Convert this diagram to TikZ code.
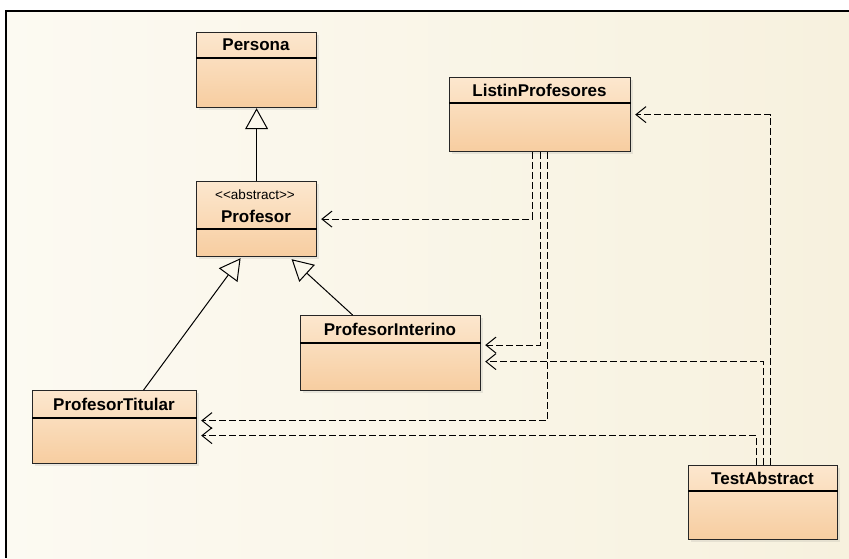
\documentclass[tikz,border=0pt]{standalone}
\usepackage{fontspec}
\setmainfont{Liberation Sans}
\usetikzlibrary{positioning, arrows.meta, shadows}

\definecolor{bgleft}{RGB}{252,250,242}
\definecolor{bgright}{RGB}{247,241,222}
\definecolor{clstop}{RGB}{252,231,206}
\definecolor{clsbot}{RGB}{247,205,160}

\begin{document}
\begin{tikzpicture}[x=1pt, y=-1pt,
    cls/.style={draw=black!85, line width=1.2pt, top color=clstop, bottom color=clsbot,
        anchor=north west, inner sep=0pt,
        drop shadow={opacity=0.15, shadow xshift=2pt, shadow yshift=-2pt}},
    cname/.style={font=\fontsize{17}{20}\selectfont\bfseries, inner sep=0pt},
    stereo/.style={font=\fontsize{13.5}{15}\selectfont, inner sep=0pt},
    gen/.style={line width=1pt, -{Triangle[open, length=21pt, width=23pt, line width=1pt]}},
    dep/.style={line width=1.1pt, dash pattern=on 7pt off 3pt,
        -{Straight Barb[length=10pt, width=16pt, line width=1pt]}, shorten >=4pt}]
    \useasboundingbox (0,0) rectangle (849,558);
    % frame
    \fill[left color=bgleft, right color=bgright] (6,11) rectangle (849,558);
    \draw[line width=2.5pt] (6,558) -- (6,11) -- (849,11);

    % classes
    \node[cls, minimum width=120pt, minimum height=75pt] (persona) at (196,32) {};
    \draw[line width=1.2pt] ([yshift=-26pt]persona.north west) -- ([yshift=-26pt]persona.north east);
    \node[cname] (persona-t) at (256,45) {Persona};

    \node[cls, minimum width=120pt, minimum height=75pt] (profesor) at (196,181) {};
    \draw[line width=1.2pt] ([yshift=-48pt]profesor.north west) -- ([yshift=-48pt]profesor.north east);
    \node[stereo] (profesor-s) at (255,195) {<{}<abstract>{}>};
    \node[cname] (profesor-t) at (256,216) {Profesor};

    \node[cls, minimum width=181pt, minimum height=74pt] (listin) at (449,77) {};
    \draw[line width=1.2pt] ([yshift=-26pt]listin.north west) -- ([yshift=-26pt]listin.north east);
    \node[cname] (listin-t) at (539.5,90) {ListinProfesores};

    \node[cls, minimum width=180pt, minimum height=75pt] (interino) at (300,315) {};
    \draw[line width=1.2pt] ([yshift=-28pt]interino.north west) -- ([yshift=-28pt]interino.north east);
    \node[cname] (interino-t) at (390,329) {ProfesorInterino};

    \node[cls, minimum width=164pt, minimum height=73pt] (titular) at (32,390) {};
    \draw[line width=1.2pt] ([yshift=-28pt]titular.north west) -- ([yshift=-28pt]titular.north east);
    \node[cname] (titular-t) at (114,404) {ProfesorTitular};

    \node[cls, minimum width=149pt, minimum height=74pt] (test) at (688,465) {};
    \draw[line width=1.2pt] ([yshift=-26pt]test.north west) -- ([yshift=-26pt]test.north east);
    \node[cname] (test-t) at (762.5,478) {TestAbstract};

    % generalizations
    \draw[gen] (profesor.north) -- (persona.south);
    \draw[gen] ([xshift=29pt]titular.north) -- ([xshift=-16pt, yshift=-1pt]profesor.south);
    \draw[gen] ([xshift=-38pt]interino.north) -- ([xshift=35pt, yshift=-2pt]profesor.south);

    % dependencies
    \draw[dep] ([xshift=-8pt]listin.south) |- (profesor.east);
    \draw[dep] (listin.south) |- ([yshift=8pt]interino.east);
    \draw[dep] ([xshift=7pt]listin.south) |- ([yshift=6.5pt]titular.east);
    \draw[dep] ([xshift=-7pt]test.north) |- ([yshift=-8.5pt]titular.east);
    \draw[dep] (test.north) |- ([yshift=-8.5pt]interino.east);
    \draw[dep] ([xshift=7pt]test.north) |- (listin.east);
\end{tikzpicture}
\end{document}
